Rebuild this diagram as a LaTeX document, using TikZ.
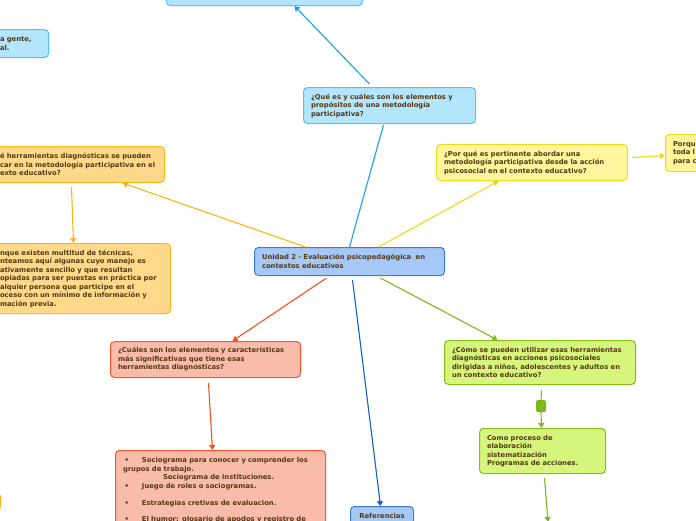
\documentclass[tikz,border=0pt]{standalone}
\usepackage{fontspec}
\setmainfont{DejaVu Sans}
\usetikzlibrary{arrows.meta,calc}
\definecolor{txt}{HTML}{553811}
\definecolor{blueF}{HTML}{B3E5FC}
\definecolor{blueD}{HTML}{4FC3F7}
\definecolor{blueA}{HTML}{1BA1E2}
\definecolor{cenF}{HTML}{A6C8F7}
\definecolor{cenD}{HTML}{3F7AD8}
\definecolor{cenA}{HTML}{1060D0}
\definecolor{oraF}{HTML}{FED98B}
\definecolor{oraD}{HTML}{FDB913}
\definecolor{oraA}{HTML}{FBB40F}
\definecolor{yelF}{HTML}{FFF59D}
\definecolor{yelD}{HTML}{F0DC1E}
\definecolor{yelA}{HTML}{ECD51A}
\definecolor{salF}{HTML}{F9BCAA}
\definecolor{salD}{HTML}{F5592B}
\definecolor{salA}{HTML}{F4511E}
\definecolor{grnF}{HTML}{D5F57C}
\definecolor{grnD}{HTML}{86BE16}
\definecolor{grnA}{HTML}{7CB81A}
\begin{document}
\begin{tikzpicture}[x=1pt,y=-1pt,
  box/.style={rounded corners=4pt, line width=1pt, inner xsep=7.5pt, inner ysep=0pt,
    align=left, text=txt, anchor=north west,
    font=\fontsize{6.8}{8.5}\selectfont\bfseries},
  bluebox/.style={box, fill=blueF, draw=blueD},
  cenbox/.style={box, fill=cenF, draw=cenD},
  orabox/.style={box, fill=oraF, draw=oraD},
  yelbox/.style={box, fill=yelF, draw=yelD},
  salbox/.style={box, fill=salF, draw=salD},
  grnbox/.style={box, fill=grnF, draw=grnD},
  conn/.style={line width=1.1pt},
  arr/.style={conn, -{Triangle[length=5pt,width=6pt]}},
]
\useasboundingbox (0,0) rectangle (696,520);
\clip (0,0) rectangle (696,520);

% nodes
\node[bluebox, text width=181pt, minimum height=46pt, anchor=south west] (top) at (166,6) {};
\node[bluebox, text width=41pt, minimum height=28pt] (tl) at (-8,29) {a gente,\\al.};
\node[bluebox, text width=157pt, minimum height=36pt] (q) at (303,87)
  {¿Qué es y cuáles son los elementos y\\propósitos de una metodología\\participativa?};
\node[cenbox, text width=175pt, minimum height=28pt] (c) at (254,247)
  {Unidad 2 - Evaluación psicopedagógica\ \ en\\contextos educativos};
\node[orabox, text width=157pt, minimum height=36pt] (o1) at (-8,146)
  {é herramientas diagnósticas se pueden\\car en la metodología participativa en el\\exto educativo?};
\node[orabox, text width=163pt, minimum height=70pt] (o2) at (-8,243)
  {nque existen multitud de técnicas,\\nteamos aquí algunas cuyo manejo es\\ativamente sencillo y que resultan\\opiadas para ser puestas en práctica por\\alquier persona que participe en el\\oceso con un mínimo de información y\\mación previa.};
\node[orabox, minimum width=20pt, minimum height=18pt, anchor=north east] (o3) at (1,492) {};
\node[yelbox, text width=176pt, minimum height=36pt] (y1) at (436,144)
  {¿Por qué es pertinente abordar una\\metodología participativa desde la acción\\psicosocial en el contexto educativo?};
\node[yelbox, text width=60pt, minimum height=37pt] (y2) at (665,134)
  {Porqu\\toda l\\para c};
\node[salbox, text width=175pt, minimum height=36pt] (s1) at (110,341)
  {¿Cuáles son los elementos y características\\más significativas que tiene esas\\herramientas diagnósticas?};
\node[salbox, text width=195pt, inner ysep=7pt] (s2) at (115,450)
  {\makebox[19pt][l]{\hspace{1.5pt}•}Sociograma para conocer y comprender los\\
   grupos de trabajo.\\
   \hspace*{40pt}Sociograma de instituciones.\\
   \makebox[19pt][l]{\hspace{1.5pt}•}Juego de roles o sociogramas.\\[8.5pt]
   \makebox[19pt][l]{\hspace{1.5pt}•}Estrategias cretivas de evaluacion.\\[8pt]
   \makebox[19pt][l]{\hspace{1.5pt}•}El humor: glosario de apodos y registro de};
\node[grnbox, text width=176pt, minimum height=44pt] (g1) at (444,340)
  {¿Cómo se pueden utilizar esas herramientas\\diagnósticas en acciones psicosociales\\dirigidas a niños, adolescentes y adultos en\\un contexto educativo?};
\node[fill=grnA, rounded corners=1.5pt, minimum width=10pt, minimum height=12pt, inner sep=0pt] (sq) at (541,406) {};
\node[grnbox, text width=111pt, minimum height=45pt] (g2) at (479,428)
  {Como proceso de\\elaboración\\sistematización\\Programas de acciones.};
\node[cenbox, text width=48pt, minimum height=18pt, align=center] (ref) at (350,506) {Referencias};
\coordinate (g3) at (548,522);

% connectors
\draw[arr, blueA] ([xshift=-20pt,yshift=3pt]q.north) -- ([xshift=30pt]top.south);
\draw[conn, blueA] (c.north) -- ([xshift=-6pt,yshift=-1pt]q.south);
\draw[arr, oraA] ([xshift=-44pt]c.north) -- ([xshift=44pt]o1.south);
\draw[arr, oraA] ([xshift=-7pt,yshift=-4pt]o1.south) -- ([xshift=-8pt]o2.north);
\draw[arr, yelA] ([xshift=29pt]c.north) -- ([xshift=-33.5pt]y1.south);
\draw[arr, yelA] ([xshift=4pt,yshift=5pt]y1.east) -- ([yshift=-2.5pt]y2.west);
\draw[arr, salA] ([xshift=-23pt,yshift=-2pt]c.south) -- ([xshift=27pt]s1.north);
\draw[arr, salA] ([xshift=3pt,yshift=-5pt]s1.south) -- ([xshift=-8pt]s2.north);
\draw[arr, cenA] ([xshift=3pt,yshift=-4pt]c.south) -- ([xshift=-1.5pt]ref.north);
\draw[arr, grnA] ([xshift=31pt,yshift=-2pt]c.south) -- ([xshift=-42.5pt]g1.north);
\draw[conn, grnA] ([xshift=1.5pt,yshift=-5pt]g1.south) -- (sq.north);
\draw[arr, grnA] (sq.south) -- ([xshift=-1pt]g2.north);
\draw[arr, grnA] ([xshift=2pt,yshift=-4pt]g2.south) -- (g3);
\end{tikzpicture}
\end{document}
